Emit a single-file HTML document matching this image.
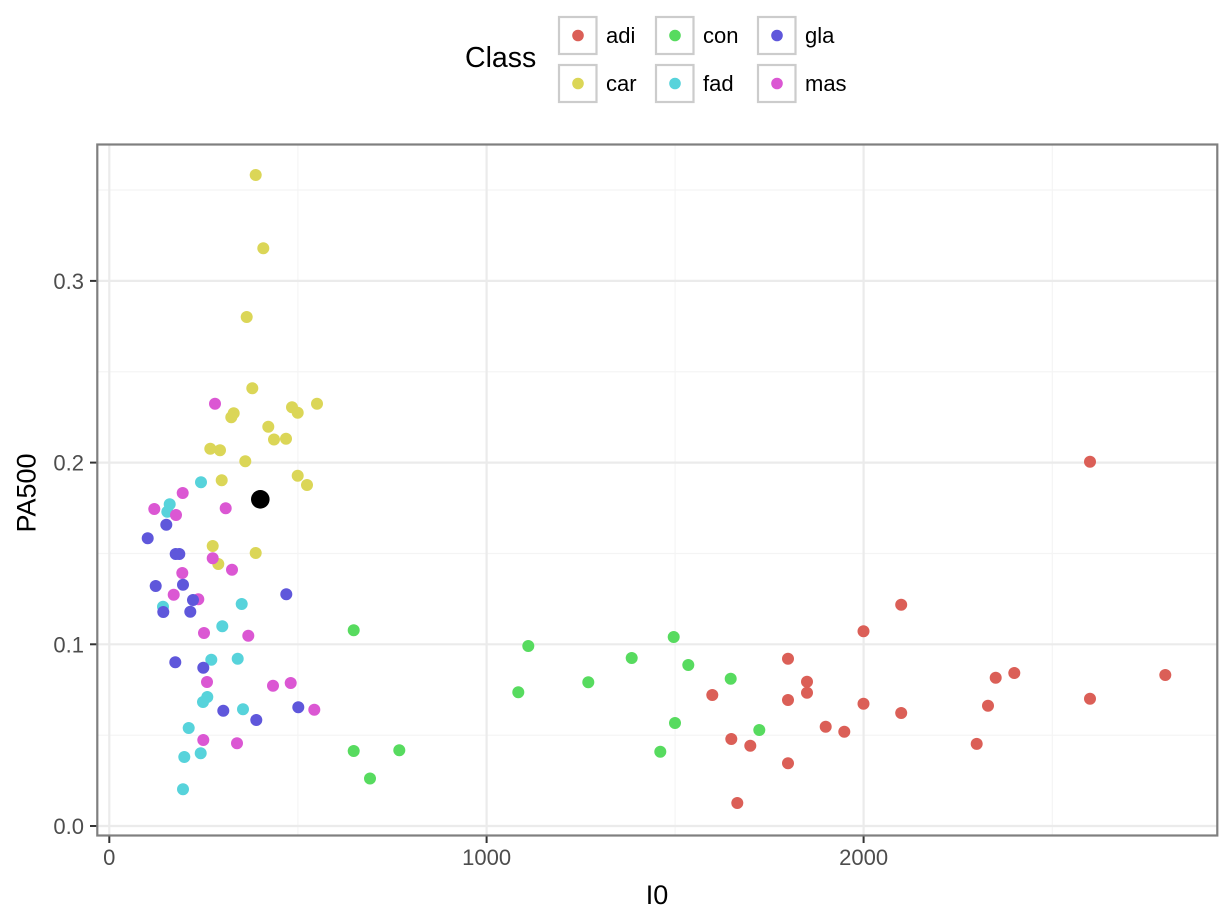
<!DOCTYPE html>
<html><head><meta charset="utf-8"><style>
html,body{margin:0;padding:0;background:#fff;}
svg{display:block;}
text{font-family:"Liberation Sans",Arial,sans-serif;}
</style></head><body>
<svg width="1228" height="921" viewBox="0 0 1228 921" xmlns="http://www.w3.org/2000/svg">
<rect x="0" y="0" width="1228" height="921" fill="#fff"/>
<!-- minor grid -->
<g stroke="#f4f4f4" stroke-width="1.2">
<line x1="97" x2="1217" y1="735.2" y2="735.2"/>
<line x1="97" x2="1217" y1="553.5" y2="553.5"/>
<line x1="97" x2="1217" y1="371.8" y2="371.8"/>
<line x1="97" x2="1217" y1="190" y2="190"/>
<line y1="144" y2="836" x1="297.9" x2="297.9"/>
<line y1="144" y2="836" x1="675.1" x2="675.1"/>
<line y1="144" y2="836" x1="1052.3" x2="1052.3"/>
</g>
<!-- major grid -->
<g stroke="#ebebeb" stroke-width="2.2">
<line x1="97" x2="1217" y1="826" y2="826"/>
<line x1="97" x2="1217" y1="644.3" y2="644.3"/>
<line x1="97" x2="1217" y1="462.6" y2="462.6"/>
<line x1="97" x2="1217" y1="280.9" y2="280.9"/>
<line y1="144" y2="836" x1="109.3" x2="109.3"/>
<line y1="144" y2="836" x1="486.6" x2="486.6"/>
<line y1="144" y2="836" x1="863.6" x2="863.6"/>
</g>
<!-- points -->
<g fill="#dbd657">
<circle cx="255.7" cy="175" r="6"/><circle cx="263.3" cy="248.3" r="6"/><circle cx="246.7" cy="317" r="6"/><circle cx="252.3" cy="388.3" r="6"/><circle cx="317" cy="403.7" r="6"/><circle cx="292" cy="407.3" r="6"/><circle cx="297.7" cy="412.7" r="6"/><circle cx="233.7" cy="413.3" r="6"/><circle cx="231.3" cy="417.3" r="6"/><circle cx="268.3" cy="426.7" r="6"/><circle cx="274" cy="439.5" r="6"/><circle cx="286" cy="438.7" r="6"/><circle cx="210.3" cy="448.7" r="6"/><circle cx="220" cy="450.3" r="6"/><circle cx="245.3" cy="461.3" r="6"/><circle cx="297.7" cy="475.7" r="6"/><circle cx="307" cy="485" r="6"/><circle cx="221.7" cy="480.3" r="6"/><circle cx="212.7" cy="546" r="6"/><circle cx="255.7" cy="553" r="6"/><circle cx="218.3" cy="564" r="6"/>
</g>
<g fill="#57d3db">
<circle cx="201" cy="482.3" r="6"/><circle cx="169.7" cy="504.3" r="6"/><circle cx="167.3" cy="511.7" r="6"/><circle cx="241.7" cy="604" r="6"/><circle cx="163" cy="606.7" r="6"/><circle cx="222.3" cy="626.3" r="6"/><circle cx="211.3" cy="659.7" r="6"/><circle cx="237.7" cy="658.7" r="6"/><circle cx="207.3" cy="697" r="6"/><circle cx="203" cy="702" r="6"/><circle cx="243" cy="709.3" r="6"/><circle cx="188.7" cy="728" r="6"/><circle cx="200.7" cy="753.3" r="6"/><circle cx="184.3" cy="757" r="6"/><circle cx="183" cy="789.3" r="6"/>
</g>
<g fill="#db57d3">
<circle cx="215" cy="403.7" r="6"/><circle cx="182.7" cy="493" r="6"/><circle cx="225.7" cy="508.3" r="6"/><circle cx="154.3" cy="509" r="6"/><circle cx="176" cy="515" r="6"/><circle cx="212.7" cy="558.3" r="6"/><circle cx="232" cy="569.7" r="6"/><circle cx="182.3" cy="573" r="6"/><circle cx="173.7" cy="594.7" r="6"/><circle cx="198.3" cy="599.3" r="6"/><circle cx="204" cy="633" r="6"/><circle cx="248.3" cy="635.7" r="6"/><circle cx="207" cy="682" r="6"/><circle cx="273" cy="685.7" r="6"/><circle cx="290.7" cy="683" r="6"/><circle cx="314.3" cy="709.7" r="6"/><circle cx="203.3" cy="740" r="6"/><circle cx="237" cy="743.3" r="6"/>
</g>
<g fill="#5f57db">
<circle cx="166.3" cy="524.7" r="6"/><circle cx="147.7" cy="538.3" r="6"/><circle cx="175.7" cy="554" r="6"/><circle cx="179.3" cy="554" r="6"/><circle cx="155.7" cy="586" r="6"/><circle cx="183" cy="584.7" r="6"/><circle cx="193" cy="600" r="6"/><circle cx="286.3" cy="594.3" r="6"/><circle cx="163.3" cy="612" r="6"/><circle cx="190.3" cy="611.7" r="6"/><circle cx="175.3" cy="662.3" r="6"/><circle cx="203.3" cy="667.7" r="6"/><circle cx="223.3" cy="710.7" r="6"/><circle cx="298.3" cy="707.3" r="6"/><circle cx="256.3" cy="720" r="6"/>
</g>
<g fill="#57db5f">
<circle cx="353.7" cy="630.3" r="6"/><circle cx="528.3" cy="646" r="6"/><circle cx="518.3" cy="692.3" r="6"/><circle cx="588.3" cy="682.3" r="6"/><circle cx="631.7" cy="658" r="6"/><circle cx="673.7" cy="637" r="6"/><circle cx="688.3" cy="665" r="6"/><circle cx="730.7" cy="678.7" r="6"/><circle cx="675" cy="723" r="6"/><circle cx="660.3" cy="751.7" r="6"/><circle cx="759.3" cy="730" r="6"/><circle cx="353.7" cy="751" r="6"/><circle cx="399.3" cy="750.3" r="6"/><circle cx="370" cy="778.5" r="6"/>
</g>
<g fill="#db5f57">
<circle cx="1090" cy="461.7" r="6"/><circle cx="901.2" cy="604.7" r="6"/><circle cx="863.5" cy="631.3" r="6"/><circle cx="788" cy="658.7" r="6"/><circle cx="807" cy="681.7" r="6"/><circle cx="807" cy="692.7" r="6"/><circle cx="712.3" cy="695" r="6"/><circle cx="788" cy="700" r="6"/><circle cx="863.5" cy="703.7" r="6"/><circle cx="901.2" cy="713" r="6"/><circle cx="825.7" cy="726.7" r="6"/><circle cx="844.3" cy="731.7" r="6"/><circle cx="731.3" cy="739" r="6"/><circle cx="750.3" cy="745.7" r="6"/><circle cx="788" cy="763.3" r="6"/><circle cx="737.3" cy="803" r="6"/><circle cx="995.7" cy="677.7" r="6"/><circle cx="1014.3" cy="673" r="6"/><circle cx="988" cy="705.7" r="6"/><circle cx="976.7" cy="743.9" r="6"/><circle cx="1165.3" cy="675" r="6"/><circle cx="1090" cy="698.7" r="6"/>
</g>
<circle cx="260.3" cy="499.3" r="9.3" fill="#000"/>
<!-- panel border -->
<rect x="97.3" y="144.5" width="1120" height="691" fill="none" stroke="#7f7f7f" stroke-width="2.2"/>
<!-- ticks -->
<g stroke="#333" stroke-width="2">
<line x1="90" x2="96.3" y1="826" y2="826"/>
<line x1="90" x2="96.3" y1="644.3" y2="644.3"/>
<line x1="90" x2="96.3" y1="462.6" y2="462.6"/>
<line x1="90" x2="96.3" y1="280.9" y2="280.9"/>
<line y1="836.5" y2="843" x1="109.3" x2="109.3"/>
<line y1="836.5" y2="843" x1="486.6" x2="486.6"/>
<line y1="836.5" y2="843" x1="863.6" x2="863.6"/>
</g>
<g fill="#4d4d4d" font-size="22" text-anchor="end">
<text x="84" y="834">0.0</text>
<text x="84" y="652.3">0.1</text>
<text x="84" y="470.6">0.2</text>
<text x="84" y="288.9">0.3</text>
</g>
<g fill="#4d4d4d" font-size="22" text-anchor="middle">
<text x="109.3" y="865">0</text>
<text x="486.6" y="865">1000</text>
<text x="863.6" y="865">2000</text>
</g>
<text x="657" y="904" font-size="27" text-anchor="middle" fill="#000">I0</text>
<text transform="translate(35.5,493) rotate(-90)" font-size="27" text-anchor="middle" fill="#000">PA500</text>
<!-- legend -->
<text x="465" y="67" font-size="28.5" fill="#000">Class</text>
<g fill="none" stroke="#cccccc" stroke-width="2.2">
<rect x="559" y="17" width="37.5" height="37"/>
<rect x="559" y="65" width="37.5" height="37"/>
<rect x="656" y="17" width="37.5" height="37"/>
<rect x="656" y="65" width="37.5" height="37"/>
<rect x="758" y="17" width="37.5" height="37"/>
<rect x="758" y="65" width="37.5" height="37"/>
</g>
<circle cx="578" cy="35.5" r="5.8" fill="#db5f57"/>
<circle cx="578" cy="83.5" r="5.8" fill="#dbd657"/>
<circle cx="675" cy="35.5" r="5.8" fill="#57db5f"/>
<circle cx="675" cy="83.5" r="5.8" fill="#57d3db"/>
<circle cx="777" cy="35.5" r="5.8" fill="#5f57db"/>
<circle cx="777" cy="83.5" r="5.8" fill="#db57d3"/>
<g font-size="22" fill="#000">
<text x="606" y="43">adi</text>
<text x="606" y="91">car</text>
<text x="703" y="43">con</text>
<text x="703" y="91">fad</text>
<text x="805" y="43">gla</text>
<text x="805" y="91">mas</text>
</g>
</svg>
</body></html>
